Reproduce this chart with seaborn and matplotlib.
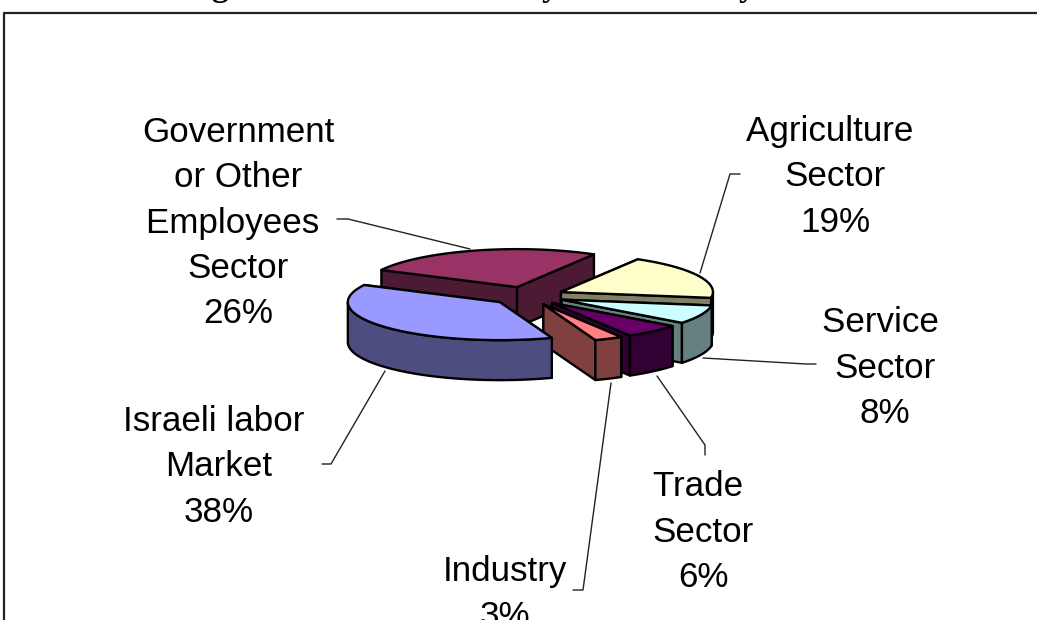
"""
Pie 3D (estilo Excel) das fatias por setor, desenhado em coordenadas de pixel.
"""

import numpy as np
import matplotlib.pyplot as plt
from matplotlib.colors import to_rgb
import seaborn as sns

# Dados, na ordem horaria do grafico
sectors = ['Agriculture \nSector', 'Service \nSector', 'Trade \nSector', 'Industry',
           'Israeli labor \nMarket', 'Government\nor Other\nEmployees \nSector']
shares = [19, 8, 6, 3, 38, 26]
top_colors = ['#ffffcc', '#ccffff', '#660066', '#ff8080', '#9999ff', '#993366']

# Posicao dos rotulos (centro do bloco de texto), uma entrada por setor
label_x = [835, 885, 703, 505, 219, 238]
label_y = [177, 368, 532, 594, 467, 223]

# Linhas de chamada
leaders = [
    [(740, 174), (730, 174), (700, 273)],
    [(816, 364), (806, 364), (703, 358)],
    [(705, 455), (705, 445), (657, 376)],
    [(573, 590), (583, 590), (611, 383)],
    [(322, 464), (331, 464), (385, 371)],
    [(337, 219), (348, 219), (470, 249)],
]

# Geometria da pizza
center = (527.5, 296)
radius = 152
squash = 0.25
depth = 40
explode = 37
start_angle = 59.6


def point(cx, cy, r, ang):
    rad = np.radians(ang)
    return cx + r * np.cos(rad), cy - squash * r * np.sin(rad)


def draw_slice(ax, a0, a1, color):
    """a0 > a1: a fatia vai no sentido horario."""
    wall = tuple(np.array(to_rgb(color)) * 0.5)
    cx, cy = point(center[0], center[1], explode, (a0 + a1) / 2)
    style = dict(edgecolor='black', linewidth=1.7, joinstyle='round')

    angles = np.linspace(a0, a1, 80)
    arc = np.array([point(cx, cy, radius, a) for a in angles])

    # paredes radiais
    for edge in (arc[0], arc[-1]):
        xs = [cx, edge[0], edge[0], cx]
        ys = [cy, edge[1], edge[1] + depth, cy + depth]
        ax.fill(xs, ys, facecolor=wall, **style)

    # parede externa: so a parte da frente
    sin_vals = np.sin(np.radians(angles))
    front = arc[sin_vals <= 0]
    if len(front) > 1:
        xs = np.r_[front[:, 0], front[::-1, 0]]
        ys = np.r_[front[:, 1], front[::-1, 1] + depth]
        ax.fill(xs, ys, facecolor=wall, **style)

    # tampo
    ax.fill(np.r_[cx, arc[:, 0]], np.r_[cy, arc[:, 1]], facecolor=color, **style)


sns.set_theme(style='white')
plt.rcParams['font.family'] = ['Liberation Sans', 'DejaVu Sans']

fig = plt.figure(figsize=(10.37, 6.2), dpi=100)
ax = fig.add_axes([0, 0, 1, 1])
ax.set_xlim(0, 1037)
ax.set_ylim(620, 0)
ax.axis('off')

# Moldura do grafico (corta na borda da imagem)
ax.plot([4, 4, 1037], [620, 13, 13], color='#222222', linewidth=1.6)

# Restos do titulo cortado no topo da imagem
for x, letter in zip([220, 550, 747], ['g', 'y', 'y']):
    ax.text(x, -4, letter, ha='center', va='baseline', fontsize=24, fontweight='bold',
            family='Liberation Serif', color='black', clip_on=False)

# Fatias de tras para frente
angle = start_angle
spans = []
for share in shares:
    spans.append((angle, angle - share * 3.6))
    angle -= share * 3.6
for i in [5, 0, 1, 2, 3, 4]:
    draw_slice(ax, spans[i][0], spans[i][1], top_colors[i])

for pts in leaders:
    xs, ys = zip(*pts)
    ax.plot(xs, ys, color='#222222', linewidth=1.0)

for name, share, x, y in zip(sectors, shares, label_x, label_y):
    ax.text(x, y, f'{name}\n{share}%', ha='center', va='center', fontsize=25.2,
            linespacing=1.48, color='black')

plt.savefig('out.png', dpi=100)
plt.close()
